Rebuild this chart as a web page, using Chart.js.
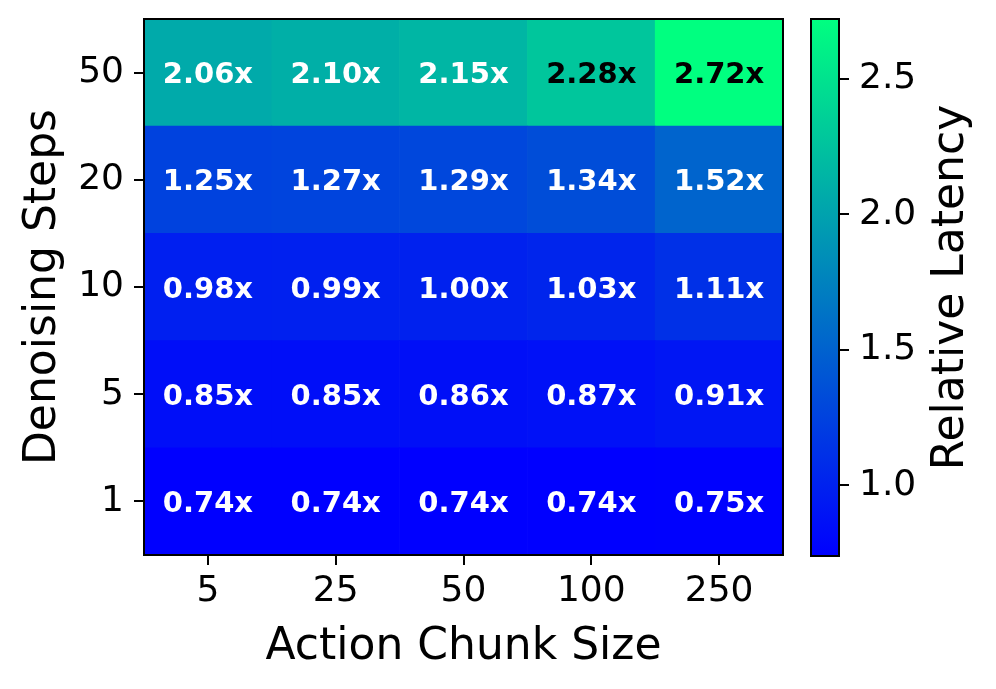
<!DOCTYPE html>
<html>
<head>
<meta charset="utf-8">
<script src="https://cdn.jsdelivr.net/npm/chart.js@4.4.1/dist/chart.umd.min.js"></script>
<style>
  html, body { margin: 0; padding: 0; background: #fff; }
  #wrap { position: relative; width: 996px; height: 689px; }
  #main { position: absolute; left: 0; top: 0; }
  #cbar { position: absolute; left: 790px; top: 0; }
</style>
</head>
<body>
<div id="wrap">
  <canvas id="main" width="800" height="689"></canvas>
  <canvas id="cbar" width="206" height="689"></canvas>
</div>
<script>
// chunk sizes along x, denoising steps along y (bottom to top)
const chunkSizes = ['5', '25', '50', '100', '250'];
const denoiseSteps = ['1', '5', '10', '20', '50'];

// relative latency, one row per denoising step (same order as denoiseSteps)
const latency1 = [0.74, 0.74, 0.74, 0.74, 0.75];
const latency5 = [0.85, 0.85, 0.86, 0.87, 0.91];
const latency10 = [0.98, 0.99, 1.00, 1.03, 1.11];
const latency20 = [1.25, 1.27, 1.29, 1.34, 1.52];
const latency50 = [2.06, 2.10, 2.15, 2.28, 2.72];
const latencyRows = [latency1, latency5, latency10, latency20, latency50];

const cbarTicks = [1.0, 1.5, 2.0, 2.5];

const allVals = latencyRows.flat();
const vmin = Math.min(...allVals);
const vmax = Math.max(...allVals);

Chart.defaults.font.family = "'DejaVu Sans', sans-serif";
Chart.defaults.color = '#000';
Chart.defaults.animation = false;

// matplotlib "winter": blue -> spring green
function winter(v) {
  const t = Math.max(0, Math.min(1, (v - vmin) / (vmax - vmin)));
  const g = Math.round(255 * t);
  const b = Math.round(255 * (1 - t / 2));
  return `rgb(0,${g},${b})`;
}

const frame = {
  id: 'frame',
  afterDraw(chart) {
    const { ctx, chartArea: a } = chart;
    ctx.save();
    ctx.strokeStyle = '#000';
    ctx.lineWidth = 2;
    ctx.strokeRect(a.left, a.top, a.right - a.left, a.bottom - a.top);
    ctx.restore();
  }
};

const cellLabels = {
  id: 'cellLabels',
  afterDatasetsDraw(chart) {
    const ctx = chart.ctx;
    ctx.save();
    ctx.font = 'bold 29px "DejaVu Sans"';
    ctx.textAlign = 'center';
    ctx.textBaseline = 'middle';
    chart.data.datasets.forEach((ds, di) => {
      const meta = chart.getDatasetMeta(di);
      meta.data.forEach((bar, i) => {
        const v = latencyRows[di][i];
        ctx.fillStyle = v > vmin + 0.75 * (vmax - vmin) ? '#000' : '#fff';
        ctx.fillText(v.toFixed(2) + 'x', bar.x, (bar.y + bar.base) / 2 + 3);
      });
    });
    ctx.restore();
  }
};

// drop the edge padding chart.js reserves for the outer tick labels
function noEdgePad(scale) {
  scale.paddingTop = 0;
  scale.paddingBottom = 0;
}

const datasets = latencyRows.map((row, r) => ({
  label: denoiseSteps[r],
  data: row.map(() => 1),
  backgroundColor: row.map(winter),
  borderWidth: 0,
  barPercentage: 1,
  categoryPercentage: 1
}));

new Chart(document.getElementById('main'), {
  type: 'bar',
  data: { labels: chunkSizes, datasets: datasets },
  options: {
    responsive: false,
    layout: { padding: { top: 19, right: 17, bottom: 0, left: 0 } },
    plugins: { legend: { display: false }, tooltip: { enabled: false } },
    scales: {
      x: {
        stacked: true,
        grid: { offset: false, drawOnChartArea: false, drawTicks: true, tickLength: 10, color: '#000', lineWidth: 2 },
        border: { display: false },
        ticks: { font: { size: 36 }, padding: 5, maxRotation: 0 },
        title: { display: true, text: 'Action Chunk Size', font: { size: 44 }, padding: { top: 0, bottom: 15 } },
        afterFit(scale) { scale.height = 134; }
      },
      y: {
        stacked: true,
        min: 0,
        max: denoiseSteps.length,
        afterBuildTicks(scale) {
          scale.ticks = denoiseSteps.map((s, i) => ({ value: i + 0.5 }));
        },
        grid: { drawOnChartArea: false, drawTicks: true, tickLength: 10, color: '#000', lineWidth: 2 },
        border: { display: false },
        ticks: {
          font: { size: 36 },
          padding: 10,
          callback: (v, i) => denoiseSteps[i]
        },
        title: { display: true, text: 'Denoising Steps', font: { size: 44 }, padding: { top: 17, bottom: 0 } },
        afterFit(scale) { scale.width = 144; noEdgePad(scale); }
      }
    }
  },
  plugins: [cellLabels, frame]
});

const cbarTitle = {
  id: 'cbarTitle',
  afterDraw(chart) {
    const { ctx, chartArea: a } = chart;
    ctx.save();
    ctx.translate(162, (a.top + a.bottom) / 2);
    ctx.rotate(-Math.PI / 2);
    ctx.font = '44px "DejaVu Sans"';
    ctx.fillStyle = '#000';
    ctx.textAlign = 'center';
    ctx.textBaseline = 'middle';
    ctx.fillText('Relative Latency', 0, 0);
    ctx.restore();
  }
};

new Chart(document.getElementById('cbar'), {
  type: 'bar',
  data: {
    labels: ['cbar'],
    datasets: [{
      data: [[vmin, vmax]],
      backgroundColor(c) {
        const { chart } = c;
        const a = chart.chartArea;
        if (!a) return winter(vmin);
        const g = chart.ctx.createLinearGradient(0, a.bottom, 0, a.top);
        g.addColorStop(0, winter(vmin));
        g.addColorStop(1, winter(vmax));
        return g;
      },
      borderWidth: 0,
      barPercentage: 1,
      categoryPercentage: 1
    }]
  },
  options: {
    responsive: false,
    layout: { padding: { top: 19, right: 0, bottom: 133, left: 21 } },
    plugins: { legend: { display: false }, tooltip: { enabled: false } },
    scales: {
      x: { display: false },
      y: {
        position: 'right',
        min: vmin,
        max: vmax,
        afterBuildTicks(scale) {
          scale.ticks = cbarTicks.map(v => ({ value: v }));
        },
        grid: { drawOnChartArea: false, drawTicks: true, tickLength: 10, color: '#000', lineWidth: 2 },
        border: { display: false },
        ticks: { font: { size: 36 }, padding: 10, callback: v => v.toFixed(1) },
        afterFit(scale) { scale.width = 157; noEdgePad(scale); }
      }
    }
  },
  plugins: [frame, cbarTitle]
});
</script>
</body>
</html>
